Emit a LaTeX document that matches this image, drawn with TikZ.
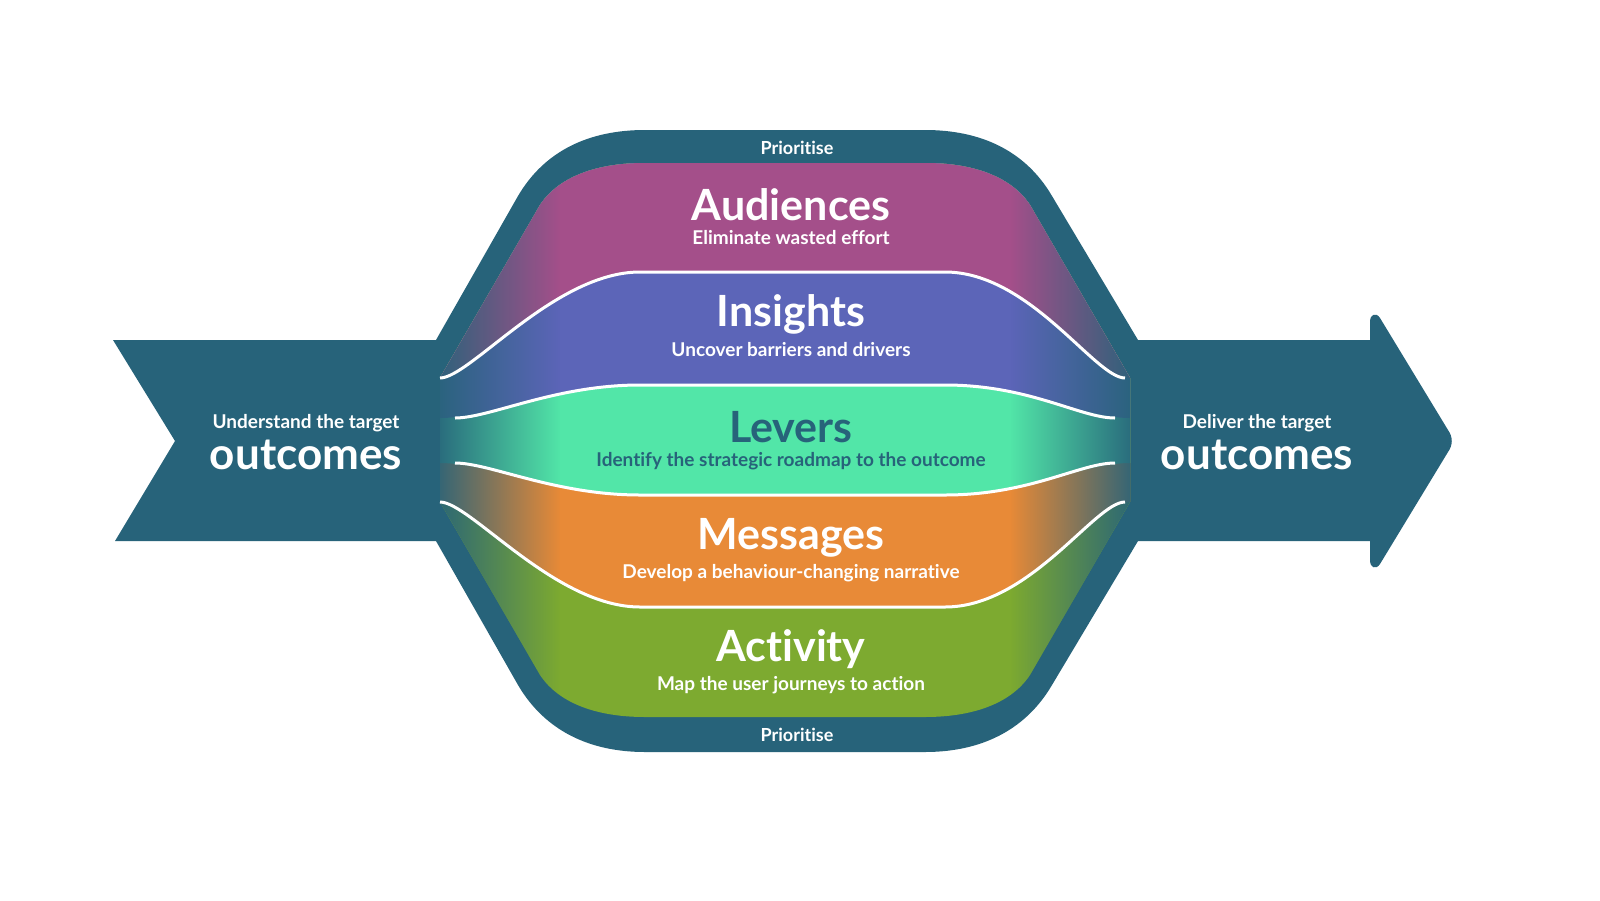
\documentclass[tikz,border=0pt]{standalone}
\usepackage{fontspec}
\setmainfont{Lato}[Ligatures={NoCommon}]
\usetikzlibrary{fadings}
\definecolor{teal}{HTML}{27637A}
\definecolor{aud}{HTML}{A44F8A}
\definecolor{ins}{HTML}{5C65B8}
\definecolor{lev}{HTML}{52E6A8}
\definecolor{mes}{HTML}{E88A37}
\definecolor{act}{HTML}{7DAA30}
\begin{document}
\begin{tikzpicture}[x=1pt,y=-1pt,
  title/.style={font=\fontsize{43}{43}\selectfont\bfseries,text=white,anchor=center},
  sub/.style={font=\fontsize{19}{19}\selectfont\bfseries,text=white,anchor=center},
  sep/.style={white,line width=3pt}]
\useasboundingbox (0,0) rectangle (1600,900);
\fill[white] (0,0) rectangle (1600,900);
% left arrow
\fill[teal] (113,340) -- (460,340) -- (460,541) -- (115,541) -- (175,441) -- cycle;
% right arrow
\fill[teal] (1110,340) -- (1370,340) -- (1370,322) .. controls (1370,314) and (1376,312) .. (1380,318) -- (1448,430) .. controls (1453,437) and (1453,445) .. (1448,452) -- (1380,564) .. controls (1376,570) and (1370,568) .. (1370,560) -- (1370,541) -- (1110,541) -- cycle;
% outer hexagon
\fill[teal] (436,340) -- (518,196) .. controls (545,150) and (590,130) .. (645,130) -- (925,130) .. controls (980,130) and (1025,150) .. (1052,196) -- (1138,340) -- (1138,541) -- (1052,685) .. controls (1025,731) and (980,752) .. (925,752) -- (645,752) .. controls (590,752) and (545,731) .. (518,685) -- (436,541) -- cycle;
\begin{scope}
\clip (440,378) -- (540,205) .. controls (560,175) and (600,163) .. (645,163) -- (925,163) .. controls (970,163) and (1010,175) .. (1030,205) -- (1130,378) -- (1130,502) -- (1030,675) .. controls (1010,705) and (970,717) .. (925,717) -- (645,717) .. controls (600,717) and (560,705) .. (540,675) -- (440,502) -- cycle;
\fill[act] (400,100) rectangle (1200,800);
\fill[mes] (400,100) -- (1200,100) -- (1200,502) -- (1130,502) .. controls (1095,502) and (1030,607) .. (945,607) -- (640,607) .. controls (555,607) and (470,502) .. (440,502) -- (400,502) -- cycle;
\fill[lev] (400,100) -- (1200,100) -- (1200,463) -- (1130,463) .. controls (1080,463) and (1030,495) .. (945,495) -- (640,495) .. controls (555,495) and (490,463) .. (440,463) -- (400,463) -- cycle;
\fill[ins] (400,100) -- (1200,100) -- (1200,418) -- (1130,418) .. controls (1080,418) and (1030,385) .. (945,385) -- (640,385) .. controls (555,385) and (490,418) .. (440,418) -- (400,418) -- cycle;
\fill[aud] (400,100) -- (1200,100) -- (1200,378) -- (1130,378) .. controls (1095,378) and (1030,272) .. (945,272) -- (640,272) .. controls (555,272) and (470,378) .. (440,378) -- (400,378) -- cycle;
\fill[teal,path fading=east] (430,100) rectangle (560,800);
\fill[teal,path fading=west] (1010,100) rectangle (1140,800);
\end{scope}
\draw[sep] (440,378) .. controls (470,378) and (555,272) .. (640,272) -- (945,272) .. controls (1030,272) and (1095,378) .. (1125,378);
\draw[sep] (455,418) .. controls (490,418) and (555,385) .. (640,385) -- (945,385) .. controls (1030,385) and (1080,418) .. (1115,418);
\draw[sep] (455,463) .. controls (490,463) and (555,495) .. (640,495) -- (945,495) .. controls (1030,495) and (1080,463) .. (1115,463);
\draw[sep] (440,502) .. controls (470,502) and (555,607) .. (640,607) -- (945,607) .. controls (1030,607) and (1095,502) .. (1125,502);
% texts
\node[sub,font=\fontsize{18}{18}\selectfont\bfseries] (p1) at (797,148) {Priorit\kern0pt ise};
\node[sub,font=\fontsize{18}{18}\selectfont\bfseries] (p2) at (797,735) {Priorit\kern0pt ise};
\node[title] (t1) at (791,205) {Audiences};
\node[sub] (s1) at (791,238) {Eliminate wasted effort};
\node[title] (t2) at (791,314) {Insights};
\node[sub] (s2) at (791,350) {Uncover barriers and drivers};
\node[title,text=teal] (t3) at (791,427) {Levers};
\node[sub,text=teal] (s3) at (791,461) {Identify the strategic roadmap to the outcome};
\node[title] (t4) at (791,538) {Messages};
\node[sub] (s4) at (791,573) {Develop a behaviour-changing narrative};
\node[title] (t5) at (791,649) {Activit\kern0pt y};
\node[sub] (s5) at (791,685) {Map the user journeys to act\kern0pt ion};
\node[sub] (l1) at (306,423) {Understand the target};
\node[title,font=\fontsize{44}{44}\selectfont\bfseries] (l2) at (306,455) {outcomes};
\node[sub] (r1) at (1257,423) {Deliver the target};
\node[title,font=\fontsize{44}{44}\selectfont\bfseries] (r2) at (1257,455) {outcomes};
\end{tikzpicture}
\end{document}
